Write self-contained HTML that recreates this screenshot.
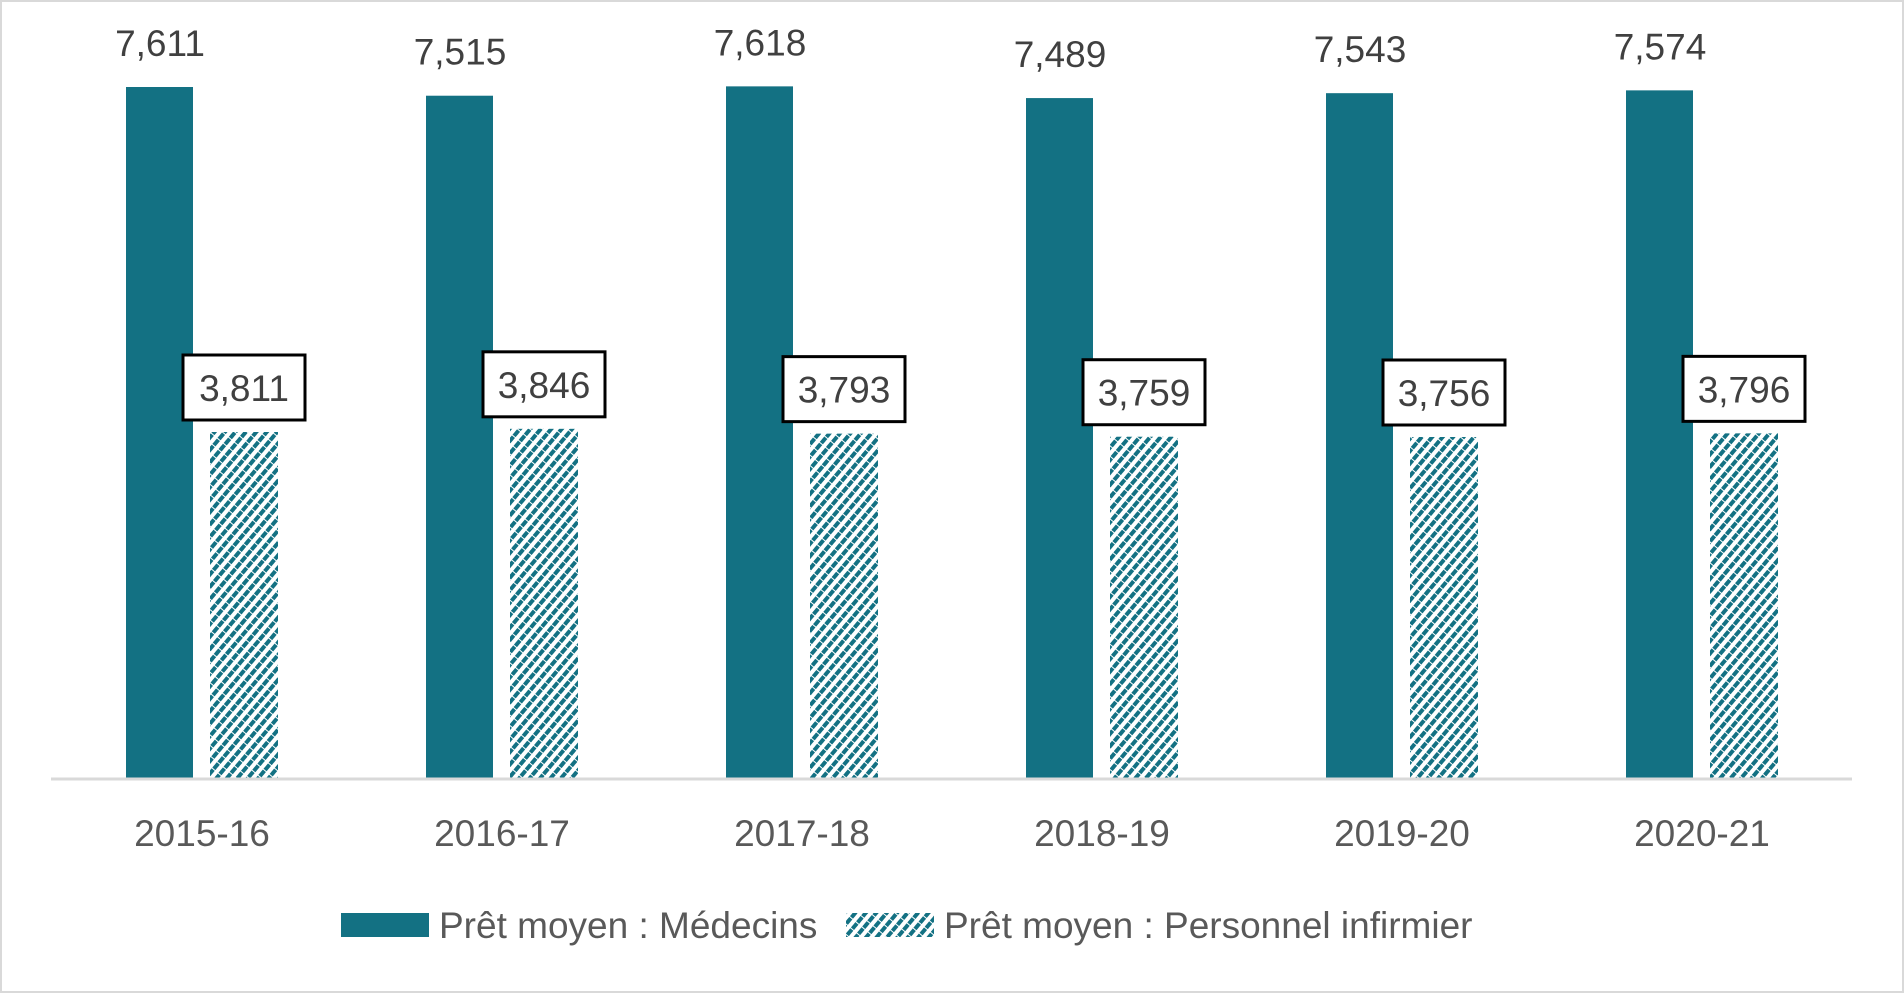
<!DOCTYPE html>
<html><head><meta charset="utf-8"><style>
html,body{margin:0;padding:0;background:#fff;}
svg{display:block;font-family:"Liberation Sans",sans-serif;}
</style></head><body>
<svg id="chart" width="1904" height="993" viewBox="0 0 1904 993">
<defs>
<pattern id="hatch" width="8" height="8" patternUnits="userSpaceOnUse" patternTransform="rotate(40)">
<rect width="8" height="8" fill="#fff"/>
<line x1="2" y1="0" x2="2" y2="8" stroke="#137183" stroke-width="4" stroke-dasharray="3.5 1"/>
</pattern>
</defs>
<rect x="1" y="1" width="1902" height="991" fill="#fff" stroke="#d9d9d9" stroke-width="2"/>
<g id="bars"></g>
<line x1="51" y1="779" x2="1852" y2="779" stroke="#d9d9d9" stroke-width="3"/>
<g>
<rect x="341" y="913" width="88" height="24" fill="#137183"/>
<text x="439" y="938" font-size="37" fill="#595959">Prêt moyen : Médecins</text>
<rect x="846" y="913" width="88" height="24" fill="url(#hatch)"/>
<text x="944" y="938" font-size="37" fill="#595959">Prêt moyen : Personnel infirmier</text>
</g>
</svg>
<script>
const categories = ["2015-16","2016-17","2017-18","2018-19","2019-20","2020-21"];
const medecins = [7611,7515,7618,7489,7543,7574];
const infirmier = [3811,3846,3793,3759,3756,3796];
const NS="http://www.w3.org/2000/svg";
const g=document.getElementById('bars');
const y0=778, k=691/7611;
const yScale=v=>y0-v*k;
const xScale=i=>202+i*300;
const fmt=v=>v.toLocaleString('en-US');
function mk(tag,attrs,txt){const e=document.createElementNS(NS,tag);for(const a in attrs)e.setAttribute(a,attrs[a]);if(txt!==undefined)e.textContent=txt;g.appendChild(e);return e;}
categories.forEach((c,i)=>{
  const cx=xScale(i);
  const ym=yScale(medecins[i]);
  const b1=mk('rect',{x:cx-76,y:ym,width:67,height:y0-ym,fill:'#137183'});
  
  
  const t1=mk('text',{x:cx-42,y:ym-31,'font-size':37,fill:'#404040','text-anchor':'middle'},fmt(medecins[i]));
  
  
  const yn=yScale(infirmier[i]);
  const b2=mk('rect',{x:cx+8,y:yn,width:68,height:y0-yn,fill:'url(#hatch)'});
  
  
  const bx=mk('rect',{x:cx+42-61,y:yn-77,width:122,height:65,fill:'#fff',stroke:'#000','stroke-width':3});
  
  
  const t2=mk('text',{x:cx+42,y:yn-31,'font-size':37,fill:'#404040','text-anchor':'middle'},fmt(infirmier[i]));
  
  
  const tl=mk('text',{x:cx,y:846,'font-size':37,fill:'#595959','text-anchor':'middle'},c);
  
  
});
</script>
</body></html>
